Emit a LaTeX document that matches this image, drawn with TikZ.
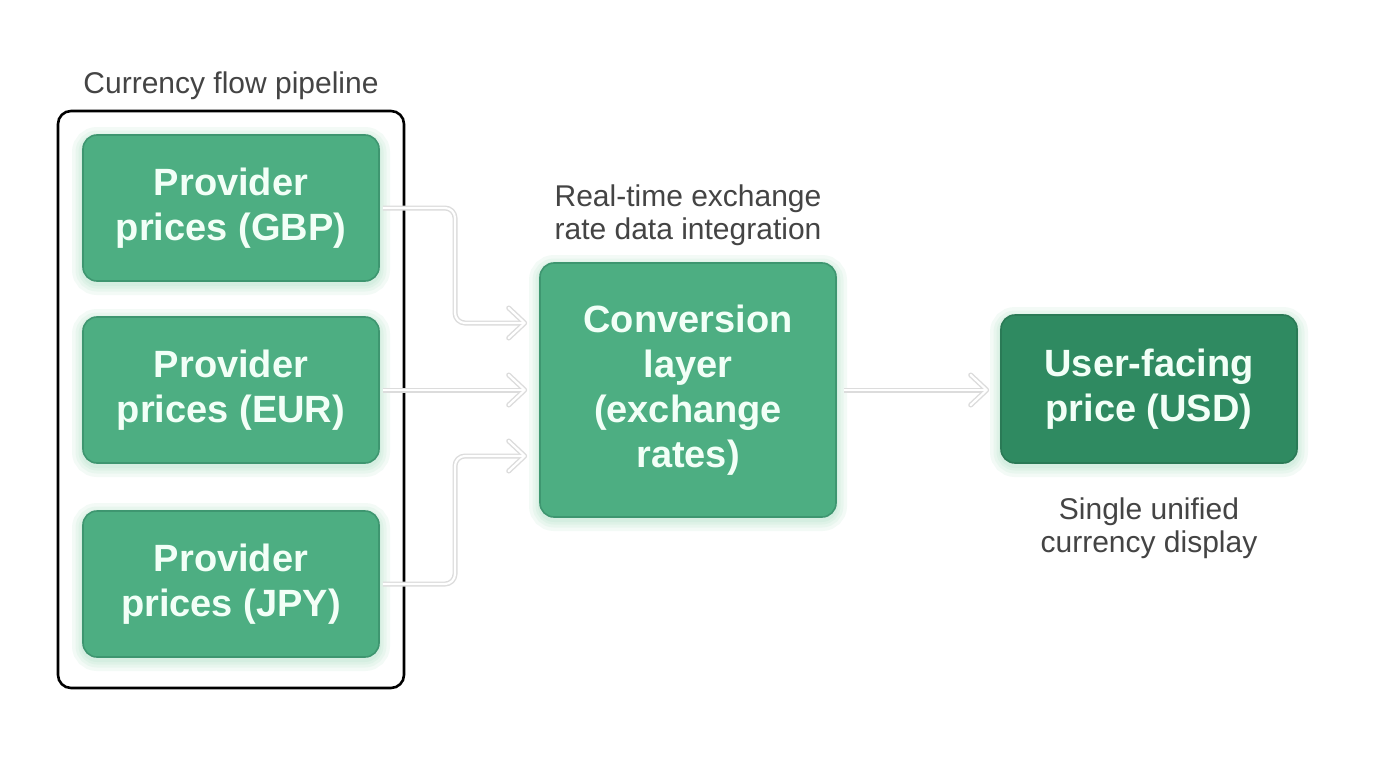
\documentclass[tikz,border=0pt]{standalone}
\usepackage{fontspec}
\setmainfont{Liberation Sans}
\usetikzlibrary{arrows.meta}
\definecolor{gfill}{HTML}{4DAE82}
\definecolor{gline}{HTML}{3E9670}
\definecolor{dfill}{HTML}{2F8A61}
\definecolor{dline}{HTML}{2A7A56}
\definecolor{gtext}{HTML}{F2FFF7}
\definecolor{labtext}{HTML}{444444}
\definecolor{arrowout}{HTML}{DCDCDC}
\definecolor{glow}{HTML}{8FD3B0}
\tikzset{
  glowpass/.style={preaction={draw=glow, fill=none, line width=#1, draw opacity=0.10,
    transform canvas={yshift=-3pt}}},
  box/.style={draw=gline, line width=1.6pt, fill=gfill, rounded corners=14pt,
    minimum width=296pt, text=gtext, align=center,
    font=\fontsize{38}{45}\selectfont\bfseries,
    glowpass=22pt, glowpass=15pt, glowpass=9pt, glowpass=4pt},
  darkbox/.style={box, draw=dline, fill=dfill},
  lab/.style={text=labtext, align=center, font=\fontsize{30}{33}\selectfont},
  flowout/.style={draw=arrowout, line width=5pt, rounded corners=10pt,
    -{Straight Barb[length=16pt,width=30pt,round]}},
  flowin/.style={draw=white, line width=2.2pt, rounded corners=10pt,
    -{Straight Barb[length=16pt,width=30pt,round]}, shorten >=1.4pt},
}
\begin{document}
\begin{tikzpicture}[x=1pt,y=-1pt]
\useasboundingbox[fill=white] (0,0) rectangle (1376,768);

\node[draw=black, line width=2.6pt, rounded corners=13pt, minimum width=346pt, minimum height=577pt] (container) at (231,399.5) {};
\node[lab, anchor=base] (title) at (231,93) {Currency flow pipeline};

\node[box, minimum height=146pt] (gbp) at (231,208) {Provider\\prices (GBP)};
\node[box, minimum height=146pt] (eur) at (231,390) {Provider\\prices (EUR)};
\node[box, minimum height=146pt] (jpy) at (231,584) {Provider\\prices (JPY)};

\node[box, minimum height=254pt] (conv) at (688,390) {Conversion\\layer\\(exchange\\rates)};
\node[lab] (convlab) at (688,215) {Real-time exchange\\rate data integration};

\node[darkbox, minimum height=148pt] (user) at (1149,389) {User-facing\\price (USD)};
\node[lab] (userlab) at (1149,528) {Single unified\\currency display};

\coordinate (a1) at ([xshift=-12pt]conv.west |- 0,323);
\coordinate (a2) at ([xshift=-12pt]conv.west |- 0,390);
\coordinate (a3) at ([xshift=-12pt]conv.west |- 0,456);
\coordinate (a4) at ([xshift=-11pt]user.west |- 0,390);

\foreach \s in {flowout,flowin}{
  \draw[\s] ([xshift=3pt]gbp.east) -- (455,208) -- (455,323) -- (a1);
  \draw[\s] ([xshift=3pt]eur.east) -- (a2);
  \draw[\s] ([xshift=3pt]jpy.east) -- (455,584) -- (455,456) -- (a3);
  \draw[\s] ([xshift=7pt]conv.east |- 0,390) -- (a4);
}
\end{tikzpicture}
\end{document}
